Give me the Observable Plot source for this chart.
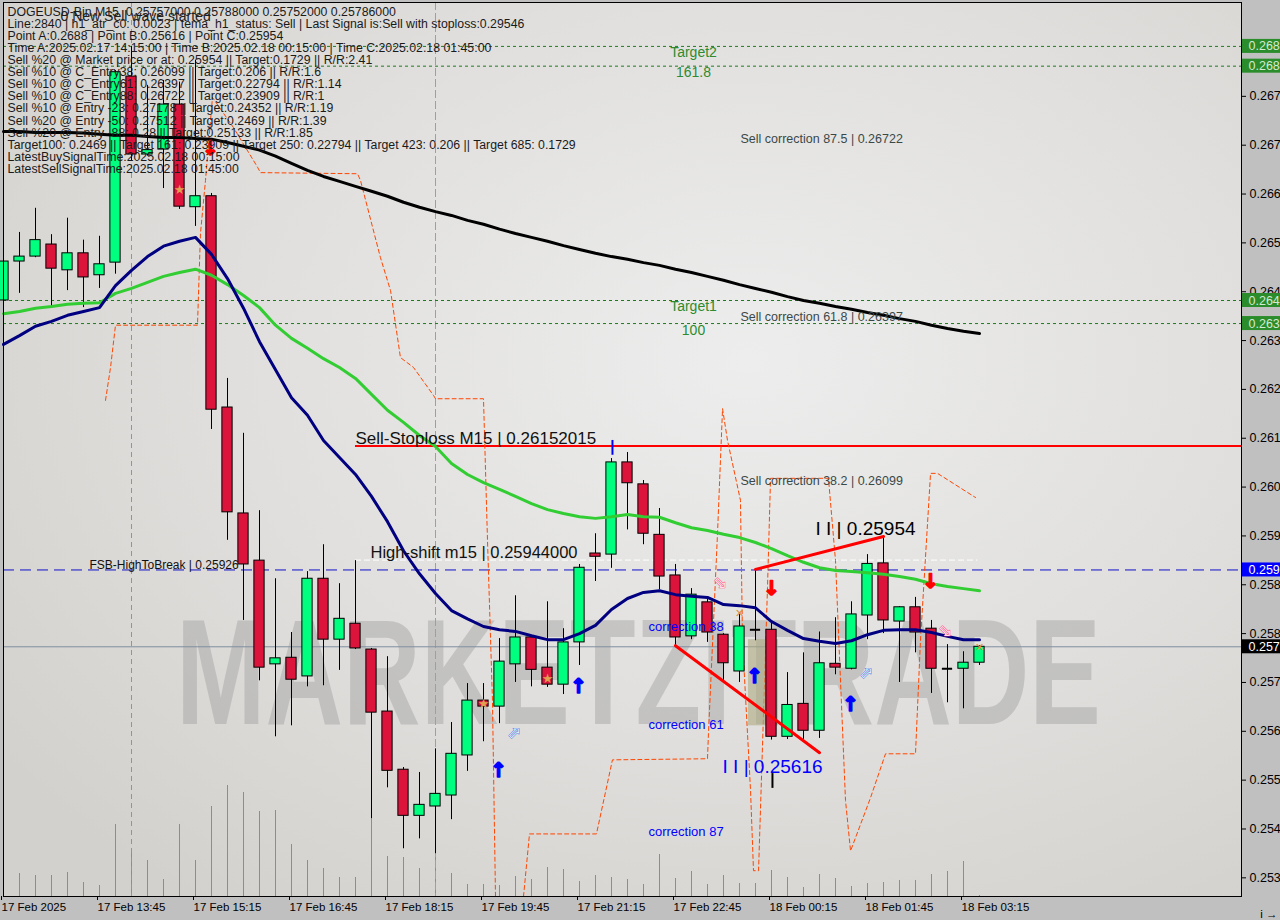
<!DOCTYPE html>
<html><head><meta charset="utf-8">
<script src="https://cdn.jsdelivr.net/npm/d3@7"></script>
<script src="https://cdn.jsdelivr.net/npm/@observablehq/plot@0.6"></script>
<style>
html,body{margin:0;padding:0;background:#c0c0c0;}
#chart{width:1280px;height:920px;overflow:hidden;position:relative;}
</style></head><body><div id="chart"></div>
<script>
// ---- candles (DOGEUSD-Bin M15, 17 Feb 12:15 -> 18 Feb 03:30) ----
const open  = [0.26417,0.26488,0.26497,0.26519,0.26472,0.26503,0.26463,0.26486,0.26825,0.26683,0.26692,0.26774,0.26587,0.26607,0.26222,0.26029,0.25943,0.25754,0.25766,0.25732,0.25910,0.25799,0.25828,0.25781,0.25668,0.25562,0.25478,0.25495,0.25515,0.25588,0.25688,0.25677,0.25754,0.25803,0.25748,0.25717,0.25794,0.25956,0.25954,0.26122,0.26082,0.25990,0.25916,0.25805,0.25867,0.25808,0.25741,0.25817,0.25817,0.25622,0.25682,0.25633,0.25755,0.25746,0.25843,0.25938,0.25832,0.25858,0.25819,0.25746,0.25746,0.25757];
const high  = [0.26499,0.26541,0.26585,0.26537,0.26567,0.26527,0.26534,0.26836,0.26880,0.26809,0.26818,0.26815,0.26855,0.26612,0.26275,0.26175,0.26034,0.25910,0.25812,0.25923,0.25972,0.25901,0.25943,0.25783,0.25768,0.25566,0.25557,0.25600,0.25648,0.25719,0.25719,0.25801,0.25879,0.25805,0.25868,0.25819,0.25936,0.25992,0.26129,0.26140,0.26089,0.26038,0.25936,0.25892,0.25877,0.25810,0.25848,0.25925,0.25830,0.25739,0.25775,0.25813,0.25839,0.25868,0.25954,0.25987,0.25859,0.25876,0.25834,0.25790,0.25777,0.25788];
const low   = [0.26412,0.26430,0.26495,0.26404,0.26435,0.26404,0.26439,0.26465,0.26672,0.26680,0.26621,0.26583,0.26552,0.26182,0.25980,0.25834,0.25724,0.25622,0.25642,0.25713,0.25715,0.25743,0.25781,0.25473,0.25529,0.25418,0.25436,0.25409,0.25471,0.25559,0.25613,0.25646,0.25721,0.25713,0.25712,0.25699,0.25752,0.25905,0.25929,0.25999,0.25972,0.25890,0.25788,0.25799,0.25794,0.25721,0.25721,0.25797,0.25616,0.25617,0.25617,0.25619,0.25735,0.25744,0.25799,0.25810,0.25721,0.25775,0.25701,0.25684,0.25673,0.25752];
const close = [0.26488,0.26497,0.26527,0.26475,0.26503,0.26459,0.26483,0.26833,0.26683,0.26691,0.26774,0.26588,0.26607,0.26218,0.26031,0.25936,0.25748,0.25765,0.25726,0.25910,0.25799,0.25837,0.25783,0.25666,0.25560,0.25478,0.25498,0.25518,0.25591,0.25688,0.25677,0.25759,0.25803,0.25744,0.25717,0.25794,0.25930,0.25950,0.26122,0.26084,0.25992,0.25914,0.25803,0.25881,0.25812,0.25756,0.25823,0.25817,0.25622,0.25680,0.25633,0.25756,0.25748,0.25845,0.25937,0.25834,0.25858,0.25812,0.25746,0.25746,0.25757,0.25786];
const volume = [18,23,21,21,24,14,11,72,47,36,17,72,36,90,111,104,85,86,52,36,28,19,19,78,40,39,28,43,23,12,12,11,20,17,29,27,15,21,19,17,12,42,18,25,12,21,13,13,26,19,9,22,18,10,13,14,16,16,22,25,35,1];

// ---- moving averages (one value per bar) ----
const maNavy  = [0.26337,0.26353,0.26370,0.26379,0.26390,0.26397,0.26404,0.26444,0.26472,0.26497,0.26516,0.26525,0.26532,0.26501,0.26457,0.26403,0.26342,0.26291,0.26240,0.26208,0.26162,0.26131,0.26100,0.26060,0.26014,0.25961,0.25919,0.25883,0.25852,0.25837,0.25823,0.25817,0.25814,0.25806,0.25799,0.25799,0.25810,0.25825,0.25854,0.25874,0.25885,0.25888,0.25881,0.25878,0.25876,0.25863,0.25861,0.25857,0.25832,0.25816,0.25801,0.25796,0.25792,0.25797,0.25808,0.25816,0.25817,0.25817,0.25812,0.25805,0.25799,0.25799];
const maGreen = [0.26393,0.26397,0.26403,0.26406,0.26410,0.26412,0.26413,0.26430,0.26439,0.26450,0.26461,0.26468,0.26474,0.26463,0.26446,0.26426,0.26404,0.26372,0.26348,0.26330,0.26311,0.26295,0.26275,0.26246,0.26217,0.26195,0.26171,0.26151,0.26120,0.26100,0.26085,0.26073,0.26060,0.26047,0.26036,0.26029,0.26023,0.26020,0.26023,0.26027,0.26023,0.26022,0.26012,0.26003,0.25998,0.25991,0.25985,0.25976,0.25965,0.25952,0.25940,0.25930,0.25925,0.25923,0.25921,0.25918,0.25914,0.25909,0.25901,0.25896,0.25892,0.25888];
const maBlack = [0.26725,0.26725,0.26723,0.26723,0.26723,0.26722,0.26720,0.26718,0.26718,0.26716,0.26714,0.26714,0.26712,0.26711,0.26705,0.26698,0.26691,0.26680,0.26667,0.26654,0.26643,0.26634,0.26625,0.26616,0.26607,0.26596,0.26587,0.26579,0.26572,0.26563,0.26556,0.26547,0.26539,0.26532,0.26525,0.26517,0.26510,0.26503,0.26497,0.26492,0.26486,0.26481,0.26474,0.26468,0.26461,0.26454,0.26446,0.26439,0.26432,0.26424,0.26417,0.26412,0.26406,0.26401,0.26395,0.26390,0.26384,0.26379,0.26372,0.26366,0.26361,0.26357];

// ---- dashed orange channel ----
const bandUpIdx   = [6.375,6.69,7.0,12.125,12.31,12.625,13.06,14.375,15.875,16.06,22.125,22.31,23.56,24.19,24.81,25.625,26.875,27.0,30.0,30.25,30.56,30.75];
const bandUpPrice = [0.26235,0.26295,0.26372,0.26372,0.26539,0.26636,0.26787,0.26732,0.26660,0.26650,0.26648,0.26636,0.26495,0.26435,0.26313,0.26295,0.26244,0.26238,0.26238,0.25980,0.25688,0.25331];
const bandLoIdx   = [32.5,32.875,37.06,38.06,44.0,44.06,44.625,44.94,45.25,46.06,46.19,46.69,46.875,47.19,47.75,47.94,51.56,52.0,52.625,52.94,54.19,55.125,57.0,57.31,57.94,58.375,60.75];
const bandLoPrice = [0.25331,0.25445,0.25445,0.25580,0.25582,0.25628,0.25992,0.26220,0.26162,0.26053,0.25797,0.25524,0.25378,0.25378,0.25894,0.26093,0.26093,0.25943,0.25506,0.25414,0.25511,0.25591,0.25591,0.25797,0.26102,0.26102,0.26058];

// ---- levels ----
const targetLevels = [0.26880, 0.26844, 0.26417, 0.26375];
const targetNames  = ["Target2", "161.8", "Target1", "100"];
const stopLoss = 0.26152, stopLossFromBar = 22;
const fsbHigh = 0.25926;
const highShift = 0.25944, highShiftBars = [22, 60.9];
const lastPrice = 0.25786;
const corrLevels = [0.26722, 0.26397, 0.26099];
const corrNames  = ["Sell correction 87.5 | 0.26722", "Sell correction 61.8 | 0.26397", "Sell correction 38.2 | 0.26099"];
const buyCorrPrice = [0.25823, 0.25644, 0.25449];
const buyCorrNames = ["correction 38", "correction 61", "correction 87"];
const pointCIdx = 50.75, pointCPrice = 0.26001, pointCText = "I I | 0.25954";
const pointBIdx = 44.94, pointBPrice = 0.25568, pointBText = "I I | 0.25616";
const zigA = [[42, 0.25788], [51, 0.25593]];
const zigB = [[47, 0.25927], [55, 0.25987]];
const zoneBars = [46.56, 48.44], zonePrice = [0.25642, 0.25799];
const markA = 8, markCyan = 27;

// ---- signals ----
const upIdx = [30.94, 35.94, 46.94, 52.94], upPrice = [0.25560, 0.25713, 0.25732, 0.25680];
const dnIdx = [12.94, 48.0, 57.94], dnPrice = [0.26694, 0.25892, 0.25905];
const hollowUpIdx = [31.94, 53.94], hollowUpPrice = [0.25629, 0.25739];
const hollowDnIdx = [44.81, 58.875], hollowDnPrice = [0.25903, 0.25815];
const starIdx = [11, 34, 30], starPrice = [0.26618, 0.25728, 0.25682];
const crossIdx = [46, 61], crossPrice = [0.25847, 0.25785];

// ---- axes ----
const xTickIdx = [0, 6, 12, 18, 24, 30, 36, 42, 48, 54, 60];
const xTickLabels = ["17 Feb 2025","17 Feb 13:45","17 Feb 15:15","17 Feb 16:45","17 Feb 18:15","17 Feb 19:45","17 Feb 21:15","17 Feb 22:45","18 Feb 00:15","18 Feb 01:45","18 Feb 03:15"];
const yTicks = [0.25365,0.25454,0.25543,0.25632,0.25721,0.25810,0.25899,0.25988,0.26077,0.26166,0.26255,0.26344,0.26433,0.26522,0.26611,0.26700,0.26789];

const infoLines = [
 "DOGEUSD-Bin,M15  0.25757000 0.25788000 0.25752000 0.25786000",
 "Line:2840 | h1_atr_c0: 0.0023 | tema_h1_status: Sell | Last Signal is:Sell with stoploss:0.29546",
 "Point A:0.2688 | Point B:0.25616 | Point C:0.25954",
 "Time A:2025.02.17 14:15:00 | Time B:2025.02.18 00:15:00 | Time C:2025.02.18 01:45:00",
 "Sell %20 @ Market price or at: 0.25954 || Target:0.1729 || R/R:2.41",
 "Sell %10 @ C_Entry38: 0.26099 || Target:0.206 || R/R:1.6",
 "Sell %10 @ C_Entry61: 0.26397 || Target:0.22794 || R/R:1.14",
 "Sell %10 @ C_Entry88: 0.26722 || Target:0.23909 || R/R:1",
 "Sell %10 @ Entry -23: 0.27178 || Target:0.24352 || R/R:1.19",
 "Sell %20 @ Entry -50: 0.27512 || Target:0.2469 || R/R:1.39",
 "Sell %20 @ Entry -88: 0.28 || Target:0.25133 || R/R:1.85",
 "Target100: 0.2469 || Target 161: 0.23909 || Target 250: 0.22794 || Target 423: 0.206 || Target 685: 0.1729",
 "LatestBuySignalTime:2025.02.18 00:15:00",
 "LatestSellSignalTime:2025.02.18 01:45:00"
];
const waveText = "0 New Sell wave started";
const watermark = "MARKETZITRADE";

// ---------------- build ----------------
const yMin = 0.25331, yMax = 0.26960, xMax = 77.375;
const ppx = (yMax - yMin) / 894;
const onePx = 1 / 16;
const bars = open.map((o, i) => ({i, o, h: high[i], l: low[i], c: close[i], v: volume[i]}));
const ups = bars.filter(d => d.c > d.o), downs = bars.filter(d => d.c < d.o), dojis = bars.filter(d => d.c === d.o);
const pts = (xs, ys) => xs.map((x, k) => ({i: x, p: ys[k]}));
const series = arr => arr.map((p, i) => ({i, p}));
const hw = 0.32;
const boxes = [
  ...targetLevels.map(p => ({p, fill: "#2a8c2a", color: "#d4ead4"})),
  {p: fsbHigh, fill: "#0000ff", color: "#ffffff"},
  {p: lastPrice, fill: "#000000", color: "#ffffff"}
];
const F = "Liberation Sans, Arial, sans-serif";

const svg = Plot.plot({
  width: 1280, height: 920,
  marginTop: 2, marginLeft: 3, marginRight: 39, marginBottom: 24,
  x: {domain: [0, xMax], axis: null},
  y: {domain: [yMin, yMax], axis: null},
  style: {fontFamily: F, fontSize: "12px", background: "transparent", overflow: "hidden"},
  marks: [
    Plot.frame({fill: "url(#bggrad)", stroke: null}),
    Plot.text([watermark], {frameAnchor: "middle", dx: 16, dy: 226, fontSize: 150, fontWeight: "bold", fill: "#a0a0a0", fillOpacity: 0.45, className: "wm", fontFamily: F}),
    // volume (1px wide bars)
    Plot.rect(bars, {x1: d => d.i - onePx / 2, x2: d => d.i + onePx / 2, y1: yMin, y2: d => yMin + d.v * ppx, fill: "#32cd32", shapeRendering: "crispEdges"}),
    // vertical markers
    Plot.ruleX([markA], {stroke: "#ff5aa5", strokeDasharray: "5,4", shapeRendering: "crispEdges"}),
    Plot.ruleX([markCyan], {stroke: "#00e0f0", strokeDasharray: "8,3", shapeRendering: "crispEdges"}),
    // level lines
    Plot.ruleY(targetLevels, {stroke: "#1f7a1f", strokeDasharray: "3,3"}),
    Plot.ruleY([lastPrice], {stroke: "#7f8f9f", strokeWidth: 1}),
    Plot.ruleY([fsbHigh], {stroke: "#1010c8", strokeDasharray: "11,6"}),
    Plot.ruleY([highShift], {x1: highShiftBars[0], x2: highShiftBars[1], stroke: "#ffffff", strokeDasharray: "6,3"}),
    Plot.ruleY([stopLoss], {x1: stopLossFromBar, x2: xMax, stroke: "#ff0000", strokeWidth: 2}),
    // orange channel
    Plot.line(pts(bandUpIdx, bandUpPrice), {x: "i", y: "p", stroke: "#ff4500", strokeDasharray: "4,3", strokeWidth: 1}),
    Plot.line(pts(bandLoIdx, bandLoPrice), {x: "i", y: "p", stroke: "#ff4500", strokeDasharray: "4,3", strokeWidth: 1}),
    // zone
    Plot.rect([0], {x1: zoneBars[0], x2: zoneBars[1], y1: zonePrice[0], y2: zonePrice[1], fill: "#aeaa80", fillOpacity: 0.6}),
    // candles
    Plot.ruleX(bars, {x: "i", y1: "l", y2: "h", stroke: "#000", strokeWidth: 1}),
    Plot.rect(ups, {x1: d => d.i - hw, x2: d => d.i + hw, y1: "o", y2: "c", fill: "#00ff7f", stroke: "#000", strokeWidth: 1}),
    Plot.rect(downs, {x1: d => d.i - hw, x2: d => d.i + hw, y1: "o", y2: "c", fill: "#dc143c", stroke: "#000", strokeWidth: 1}),
    Plot.ruleY(dojis, {y: "o", x1: d => d.i - hw, x2: d => d.i + hw, stroke: "#000", strokeWidth: 2}),
    // moving averages
    Plot.line(series(maBlack), {x: "i", y: "p", stroke: "#000", strokeWidth: 3}),
    Plot.line(series(maGreen), {x: "i", y: "p", stroke: "#32cd32", strokeWidth: 3}),
    Plot.line(series(maNavy), {x: "i", y: "p", stroke: "#000080", strokeWidth: 3}),
    // zigzag
    Plot.line(zigA.map(([i, p]) => ({i, p})), {x: "i", y: "p", stroke: "#ff0000", strokeWidth: 3}),
    Plot.line(zigB.map(([i, p]) => ({i, p})), {x: "i", y: "p", stroke: "#ff0000", strokeWidth: 3}),
    // signals
    Plot.text(pts(upIdx, upPrice), {x: "i", y: "p", text: () => "↑", fill: "#0000ff", stroke: "#0000ff", strokeWidth: 1.5, fontSize: 20, fontWeight: "bold", fontFamily: "DejaVu Sans"}),
    Plot.text(pts(dnIdx, dnPrice), {x: "i", y: "p", text: () => "↓", fill: "#ff0000", stroke: "#ff0000", strokeWidth: 1.5, fontSize: 20, fontWeight: "bold", fontFamily: "DejaVu Sans"}),
    Plot.text(pts(hollowUpIdx, hollowUpPrice), {x: "i", y: "p", text: () => "⬀", fill: "#ffffff", stroke: "#2f6fe0", strokeWidth: 1, fontSize: 16, fontFamily: "DejaVu Sans"}),
    Plot.text(pts(hollowDnIdx, hollowDnPrice), {x: "i", y: "p", text: () => "⬂", fill: "#ffffff", stroke: "#ff4f80", strokeWidth: 1, fontSize: 16, fontFamily: "DejaVu Sans"}),
    Plot.text(pts(starIdx, starPrice), {x: "i", y: "p", text: () => "★", fill: "#e0a050", fontSize: 13, fontFamily: "DejaVu Sans"}),
    Plot.text(pts(crossIdx, crossPrice), {x: "i", y: "p", text: () => "✕", fill: "#e08a40", fontSize: 11, fontWeight: "bold", fontFamily: "DejaVu Sans"}),
    Plot.ruleX([38.06], {y1: 0.26135, y2: 0.26162, stroke: "#0000ff", strokeWidth: 2}),
    Plot.ruleX([48.06], {y1: 0.25528, y2: 0.25555, stroke: "#000", strokeWidth: 2}),
    // labels
    Plot.text(targetLevels, {x: 43.125, y: d => d, text: (d, k) => targetNames[k], lineAnchor: "top", dy: 1, fill: "#2e8b2e", fontSize: 14}),
    Plot.text(corrLevels, {x: 46.06, y: d => d, text: (d, k) => corrNames[k], textAnchor: "start", lineAnchor: "top", dy: 1, fill: "#3b4848", fontSize: 12.5}),
    Plot.text(buyCorrPrice, {x: 40.31, y: d => d, text: (d, k) => buyCorrNames[k], textAnchor: "start", fill: "#0000ff", fontSize: 13}),
    Plot.text([stopLoss], {x: stopLossFromBar, y: d => d, text: () => "Sell-Stoploss M15 | 0.26152015", textAnchor: "start", lineAnchor: "bottom", dy: -2, fill: "#111", fontSize: 17}),
    Plot.text([highShift], {x: 22.94, y: d => d, text: () => "High-shift m15 | 0.25944000", textAnchor: "start", lineAnchor: "bottom", dy: -2, fill: "#111", fontSize: 16.5}),
    Plot.text([fsbHigh], {x: 5.375, y: d => d, text: () => "FSB-HighToBreak | 0.25926", textAnchor: "start", lineAnchor: "bottom", dy: -1, fill: "#111", fontSize: 12}),
    Plot.text([pointCText], {x: pointCIdx, y: pointCPrice, text: d => d, textAnchor: "start", fill: "#000", fontSize: 19}),
    Plot.text([pointBText], {x: pointBIdx, y: pointBPrice, text: d => d, textAnchor: "start", fill: "#0000ff", fontSize: 19}),
    Plot.text([infoLines.join("\n")], {frameAnchor: "top-left", dx: 4, dy: 5, lineAnchor: "top", textAnchor: "start", lineHeight: 0.98, fontSize: 12.3, fill: "#1a1a1a"}),
    Plot.text([waveText], {frameAnchor: "top-left", dx: 57, dy: 9, lineAnchor: "top", textAnchor: "start", fontSize: 14, fill: "#222"}),
    // axes
    Plot.axisY({anchor: "right", ticks: yTicks, tickFormat: d => d.toFixed(5), tickSize: 4, tickPadding: 4, fontSize: 12.5, fontFamily: F}),
    Plot.axisX({anchor: "bottom", ticks: xTickIdx, tickFormat: d => xTickLabels[xTickIdx.indexOf(d)], tickSize: 4, tickPadding: 2, textAnchor: "start", dx: -2, fontSize: 11.5, fontFamily: F}),
    Plot.rect(boxes, {x1: xMax + 0.06, x2: xMax + 3, y1: d => d.p - 7 * ppx, y2: d => d.p + 7 * ppx, fill: d => d.fill}),
    Plot.text(boxes, {x: xMax, y: "p", dx: 7, text: d => d.p.toFixed(5), textAnchor: "start", fill: d => d.color, fontSize: 12.5}),
    Plot.frame({stroke: "#000", strokeWidth: 1})
  ]
});

// background gradient for the chart area
svg.insertAdjacentHTML("afterbegin",
  '<defs><radialGradient id="bggrad" cx="0.6" cy="0.4" r="0.75">' +
  '<stop offset="0" stop-color="#ededed"/><stop offset="0.55" stop-color="#e0dfdd"/><stop offset="1" stop-color="#d3d1cd"/>' +
  '</radialGradient></defs>');
const wm = svg.querySelector(".wm text");
if (wm) { wm.setAttribute("textLength", "925"); wm.setAttribute("lengthAdjust", "spacingAndGlyphs"); }
document.getElementById("chart").appendChild(svg);
</script></body></html>
